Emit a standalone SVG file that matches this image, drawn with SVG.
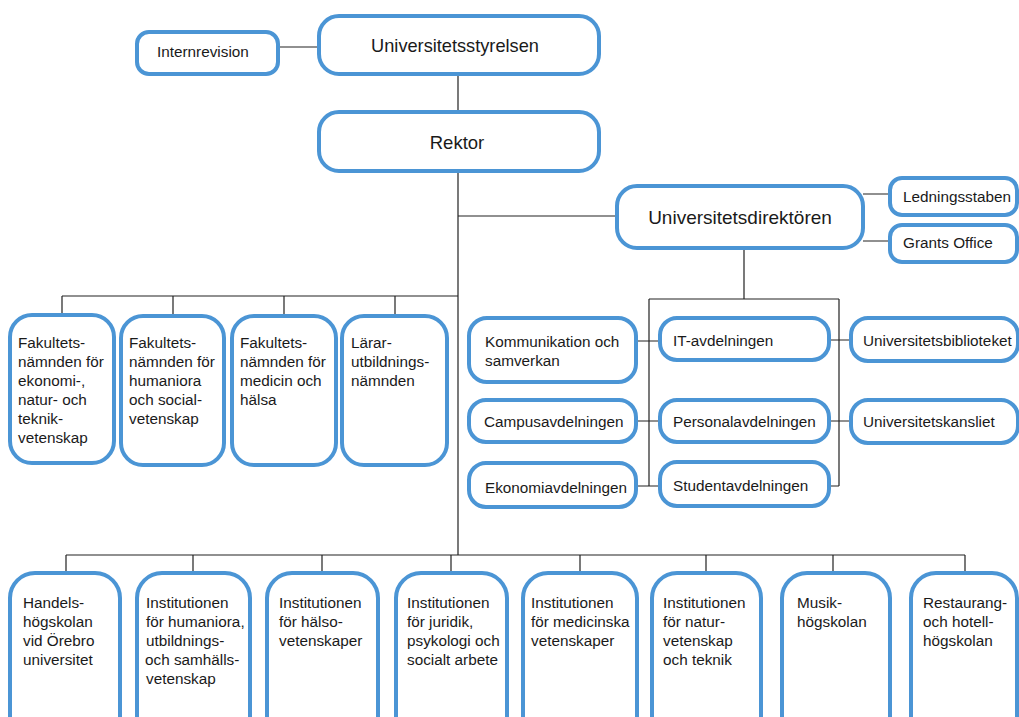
<svg xmlns="http://www.w3.org/2000/svg" width="1019" height="717" viewBox="0 0 1019 717">
<style>
.n{fill:#fff;stroke:#4b95d5;stroke-width:4}
.c{fill:none;stroke:#222;stroke-width:1.2}
text{font-family:"Liberation Sans",Arial,sans-serif;fill:#1a1a1a;font-size:15.3px}
.big{font-size:18.5px;text-anchor:middle}
</style>
<rect width="1019" height="717" fill="#fff"/>
<g id="connectors" class="c">
<path d="M278 47H319M458 74V112M458 171V555M458 216H617"/>
<path d="M62 296H458M62 296V315M173 296V316M284 296V316M395 296V316"/>
<path d="M66 555H965M66 555V573M193 555V573M322 555V573M451 555V573M580 555V573M706 555V573M833 555V573M965 555V573"/>
<path d="M863 194H890M863 241H890"/>
<path d="M744 248V299M649 299H839M649 299V486M839 299V486"/>
<path d="M636 341H660M636 421H660M636 486H660M829 340H851M829 421H851M829 486H839"/>
</g>
<g id="internrevision"><rect class="n" x="137" y="32" width="141" height="42" rx="12"/><text x="157" y="57">Internrevision</text></g>
<g id="styrelsen"><rect class="n" x="319" y="16" width="280" height="58" rx="20"/><text class="big" x="455" y="52" style="font-size:18.2px">Universitetsstyrelsen</text></g>
<g id="rektor"><rect class="n" x="319" y="112" width="280" height="59" rx="20"/><text class="big" x="457" y="149">Rektor</text></g>
<g id="direktoren"><rect class="n" x="617" y="186" width="246" height="62" rx="20"/><text class="big" x="740" y="224" style="font-size:19px">Universitetsdirektören</text></g>
<g id="ledningsstaben"><rect class="n" x="890" y="178" width="127" height="37" rx="12"/><text x="903" y="202">Ledningsstaben</text></g>
<g id="grants"><rect class="n" x="890" y="225" width="127" height="37" rx="12"/><text x="903" y="248">Grants Office</text></g>
<g id="kommunikation"><rect class="n" x="469" y="318" width="167" height="64" rx="18"/><text x="485" y="347">Kommunikation och</text><text x="485" y="366">samverkan</text></g>
<g id="campus"><rect class="n" x="469" y="400" width="167" height="42" rx="17"/><text x="484" y="427">Campusavdelningen</text></g>
<g id="ekonomi"><rect class="n" x="469" y="463" width="167" height="44" rx="17"/><text x="485" y="493">Ekonomiavdelningen</text></g>
<g id="it"><rect class="n" x="660" y="318" width="169" height="42" rx="17"/><text x="673" y="346">IT-avdelningen</text></g>
<g id="personal"><rect class="n" x="660" y="400" width="169" height="42" rx="17"/><text x="673" y="427">Personalavdelningen</text></g>
<g id="student"><rect class="n" x="660" y="462" width="169" height="44" rx="17"/><text x="673" y="491">Studentavdelningen</text></g>
<g id="bibliotek"><rect class="n" x="851" y="318" width="167" height="43" rx="17"/><text x="863" y="346">Universitetsbiblioteket</text></g>
<g id="kansliet"><rect class="n" x="851" y="400" width="167" height="43" rx="17"/><text x="863" y="427">Universitetskansliet</text></g>
<g id="fak1"><rect class="n" x="10" y="315" width="104" height="148" rx="22"/><text x="18" y="348">Fakultets-<tspan x="18" dy="19">nämnden för</tspan><tspan x="18" dy="19">ekonomi-,</tspan><tspan x="18" dy="19">natur- och</tspan><tspan x="18" dy="19">teknik-</tspan><tspan x="18" dy="19">vetenskap</tspan></text></g>
<g id="fak2"><rect class="n" x="121" y="316" width="103" height="149" rx="22"/><text x="129" y="348">Fakultets-<tspan x="129" dy="19">nämnden för</tspan><tspan x="129" dy="19">humaniora</tspan><tspan x="129" dy="19">och social-</tspan><tspan x="129" dy="19">vetenskap</tspan></text></g>
<g id="fak3"><rect class="n" x="232" y="316" width="104" height="149" rx="22"/><text x="240" y="348">Fakultets-<tspan x="240" dy="19">nämnden för</tspan><tspan x="240" dy="19">medicin och</tspan><tspan x="240" dy="19">hälsa</tspan></text></g>
<g id="fak4"><rect class="n" x="342" y="316" width="105" height="149" rx="22"/><text x="351" y="348">Lärar-<tspan x="351" dy="19">utbildnings-</tspan><tspan x="351" dy="19">nämnden</tspan></text></g>
<g id="inst1"><rect class="n" x="10" y="573" width="110" height="180" rx="25"/><text x="23" y="608">Handels-<tspan x="23" dy="19">högskolan</tspan><tspan x="23" dy="19">vid Örebro</tspan><tspan x="23" dy="19">universitet</tspan></text></g>
<g id="inst2"><rect class="n" x="137" y="573" width="113" height="180" rx="25"/><text x="146" y="608">Institutionen<tspan x="146" dy="19">för humaniora,</tspan><tspan x="146" dy="19">utbildnings-</tspan><tspan x="145" dy="19">och samhälls-</tspan><tspan x="146" dy="19">vetenskap</tspan></text></g>
<g id="inst3"><rect class="n" x="267" y="573" width="111" height="180" rx="25"/><text x="279" y="608">Institutionen<tspan x="279" dy="19">för hälso-</tspan><tspan x="279" dy="19">vetenskaper</tspan></text></g>
<g id="inst4"><rect class="n" x="396" y="573" width="111" height="180" rx="25"/><text x="407" y="608">Institutionen<tspan x="407" dy="19">för juridik,</tspan><tspan x="407" dy="19">psykologi och</tspan><tspan x="407" dy="19">socialt arbete</tspan></text></g>
<g id="inst5"><rect class="n" x="523" y="573" width="114" height="180" rx="25"/><text x="531" y="608">Institutionen<tspan x="531" dy="19">för medicinska</tspan><tspan x="531" dy="19">vetenskaper</tspan></text></g>
<g id="inst6"><rect class="n" x="652" y="573" width="109" height="180" rx="25"/><text x="663" y="608">Institutionen<tspan x="663" dy="19">för natur-</tspan><tspan x="663" dy="19">vetenskap</tspan><tspan x="663" dy="19">och teknik</tspan></text></g>
<g id="inst7"><rect class="n" x="782" y="573" width="108" height="180" rx="25"/><text x="797" y="608">Musik-<tspan x="797" dy="19">högskolan</tspan></text></g>
<g id="inst8"><rect class="n" x="911" y="573" width="106" height="180" rx="25"/><text x="923" y="608">Restaurang-<tspan x="923" dy="19">och hotell-</tspan><tspan x="923" dy="19">högskolan</tspan></text></g>
</svg>
